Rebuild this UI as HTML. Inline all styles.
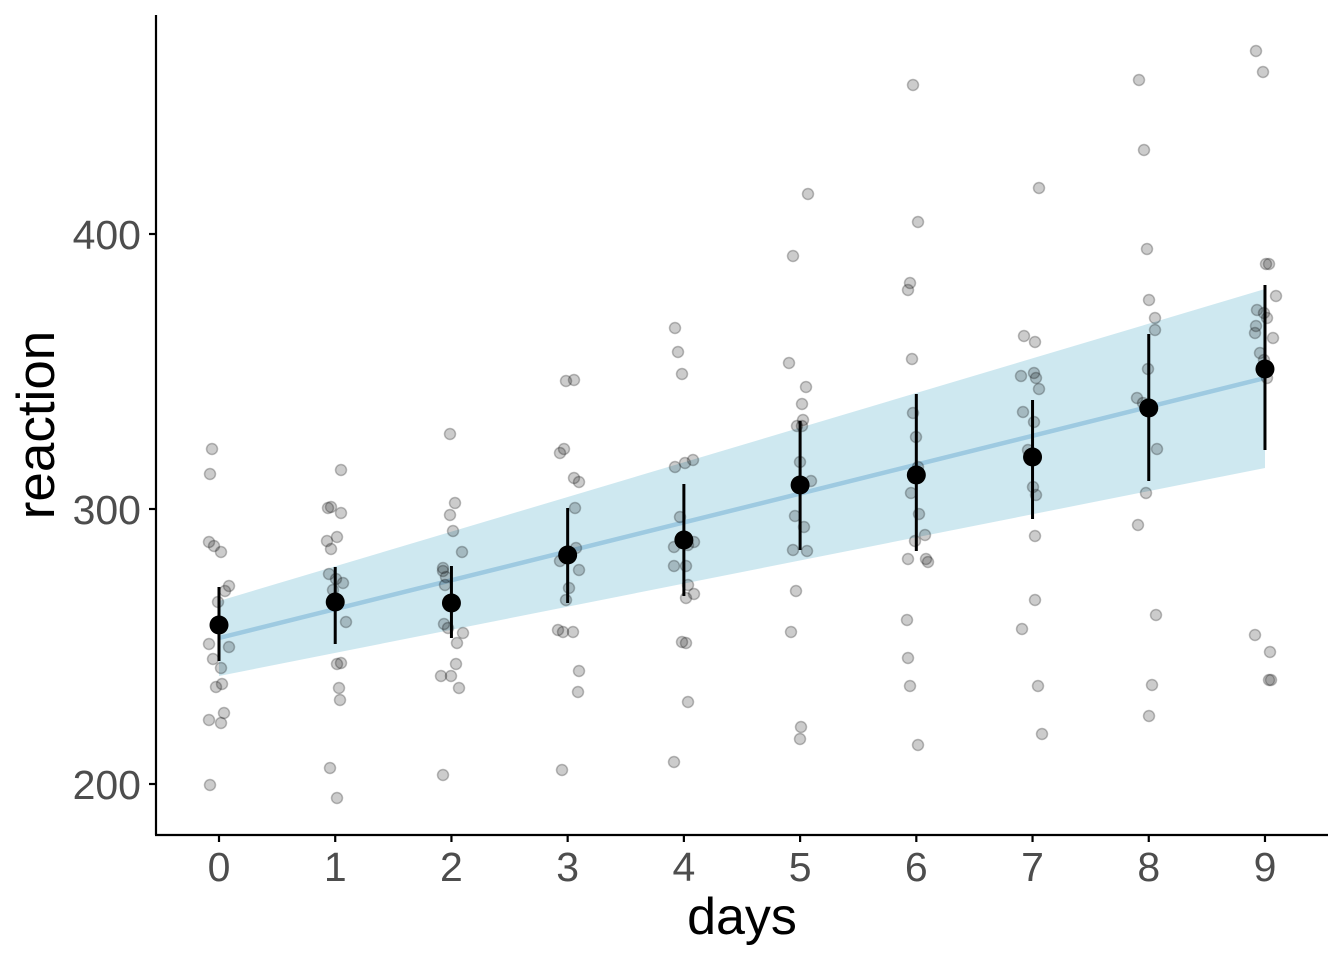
<!DOCTYPE html>
<html><head><style>body{margin:0;background:#fff}</style></head><body>
<svg width="1344" height="960" xmlns="http://www.w3.org/2000/svg" font-family="Liberation Sans, Arial, sans-serif">
<polygon points="219,601 1265,289 1265,468 219,676" fill="#add8e6" fill-opacity="0.6"/>
<line x1="219" y1="638" x2="1265" y2="378" stroke="#9ecae1" stroke-width="4.5"/>
<g fill="#000" fill-opacity="0.2" stroke="#000" stroke-opacity="0.25" stroke-width="1.5" id="pts"></g>
<g stroke="#000" stroke-width="3" id="eb"></g>
<g fill="#000" id="mn"></g>
<g stroke="#000" stroke-width="2.2" fill="none">
<line x1="156" y1="15" x2="156" y2="835"/>
<line x1="155" y1="835" x2="1328" y2="835"/>
<line x1="149" y1="234" x2="156" y2="234"/><line x1="149" y1="509" x2="156" y2="509"/><line x1="149" y1="784" x2="156" y2="784"/>
</g>
<g stroke="#000" stroke-width="2.2" id="xt"></g>
<g fill="#4d4d4d" font-size="41" text-anchor="end">
<text x="141" y="249">400</text><text x="141" y="524">300</text><text x="141" y="799">200</text>
</g>
<g fill="#4d4d4d" font-size="41" text-anchor="middle" id="xl"></g>
<text x="742" y="934" font-size="52" text-anchor="middle">days</text>
<text transform="translate(54,425) rotate(-90)" font-size="53" text-anchor="middle">reaction</text>
</svg>
<script>
var P=[[212,449],[210,474],[209,542],[214,546],[221,552],[209,644],[213,659],[221,668],[229,647],[216,687],[222,684],[209,720],[224,713],[221,723],[210,785],[229,586],[225,591],[218,602],
[328,508],[331,507],[341,513],[327,541],[337,537],[331,549],[329,574],[336,579],[343,583],[346,622],[337,664],[341,663],[339,688],[340,700],[330,768],[337,798],[341,470],[333,590],
[450,434],[455,503],[450,515],[453,531],[462,552],[443,568],[443,571],[446,577],[444,624],[448,628],[463,633],[457,643],[456,664],[441,676],[451,676],[459,688],[443,775],[445,585],
[566,381],[574,380],[564,449],[560,453],[574,478],[579,482],[575,508],[560,561],[576,548],[579,570],[569,588],[558,630],[563,632],[573,632],[579,671],[578,692],[562,770],[566,600],
[675,328],[678,352],[682,374],[675,467],[685,463],[693,460],[680,517],[674,547],[688,545],[694,542],[674,566],[686,566],[688,585],[694,594],[686,598],[682,642],[686,643],[688,702],[674,762],
[808,194],[793,256],[789,363],[806,387],[802,404],[797,426],[802,426],[800,462],[811,481],[795,516],[804,527],[793,550],[807,551],[796,591],[791,632],[801,727],[800,739],[803,420],
[913,85],[918,222],[910,283],[908,290],[912,359],[913,413],[916,437],[918,467],[911,493],[919,514],[915,541],[925,535],[926,559],[928,562],[908,559],[907,620],[908,658],[910,686],[918,745],
[1039,188],[1024,336],[1035,342],[1021,376],[1034,373],[1036,378],[1039,389],[1023,412],[1034,422],[1033,487],[1036,495],[1035,536],[1035,600],[1022,629],[1038,686],[1042,734],[1028,450],
[1139,80],[1144,150],[1147,249],[1149,300],[1155,318],[1155,330],[1148,369],[1137,398],[1143,403],[1157,449],[1146,493],[1138,525],[1156,615],[1152,685],[1149,716],
[1256,51],[1263,72],[1266,264],[1269,264],[1257,310],[1264,313],[1267,318],[1256,326],[1255,333],[1273,338],[1260,353],[1267,378],[1276,296],[1255,635],[1270,652],[1269,680],[1271,680],[1264,360]];
var M=[[625,587,661],[602,567,644],[603,566,638],[555,508,603],[540,484,596],[485,421,550],[475,394,551],[457,400,519],[408,334,481],[369,285,450]];
var ns="http://www.w3.org/2000/svg";function el(p,t,a,tx){var e=document.createElementNS(ns,t);for(var k in a)e.setAttribute(k,a[k]);if(tx)e.textContent=tx;document.getElementById(p).appendChild(e);}
P.forEach(function(p){el("pts","circle",{cx:p[0],cy:p[1],r:5.5});});
M.forEach(function(m,i){var x=219+i*116.22;el("eb","line",{x1:x,x2:x,y1:m[1],y2:m[2]});el("mn","circle",{cx:x,cy:m[0],r:9.5});el("xt","line",{x1:x,x2:x,y1:835,y2:842});el("xl","text",{x:x,y:881},""+i);});
</script>
</body></html>
